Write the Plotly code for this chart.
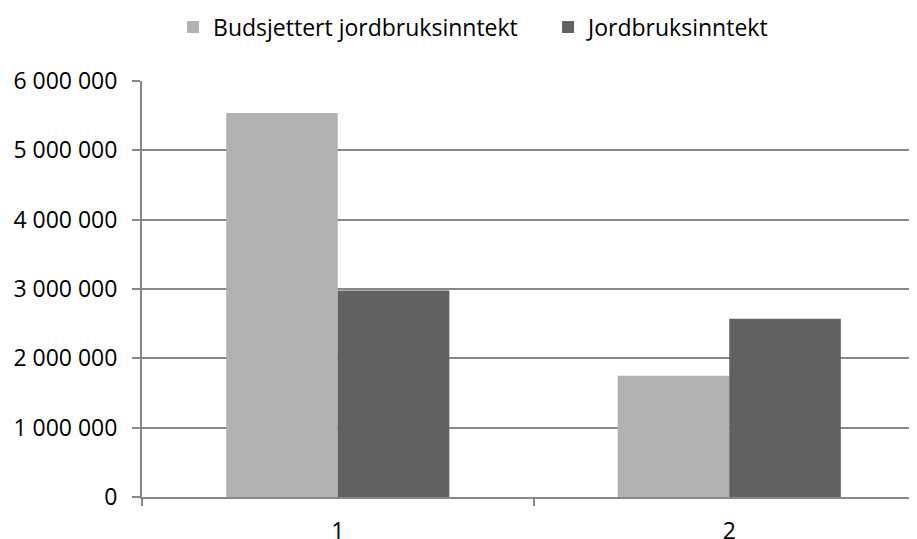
import plotly.graph_objects as go

# categories and series values
categories = ["1", "2"]
budsjettert = [5540000, 1750000]
jordbruk = [2980000, 2570000]
series_names = ["Budsjettert jordbruksinntekt", "Jordbruksinntekt"]

FONT = "Open Sans, Liberation Sans, sans-serif"
GRID = "#878787"

fig = go.Figure()
fig.add_trace(go.Bar(x=categories, y=budsjettert, name=series_names[0],
                     marker=dict(color="#b2b2b2", line=dict(width=0))))
fig.add_trace(go.Bar(x=categories, y=jordbruk, name=series_names[1],
                     marker=dict(color="#616161", line=dict(width=0))))

# the page puts the figure 8px in from the top-left corner, margins make up for it
fig.update_layout(
    width=917, height=539,
    margin=dict(l=134, r=0, t=73, b=50, autoexpand=False),
    paper_bgcolor="white", plot_bgcolor="white",
    font=dict(family=FONT, size=22, color="#000000"),
    separators=". ",
    barmode="group", bargap=0.43, bargroupgap=0,
    legend=dict(
        orientation="h",
        xref="container", yref="container",
        x=0.18, xanchor="left",
        y=1 - 19 / 539, yanchor="middle",
        font=dict(family=FONT, size=23),
        itemwidth=30,
        entrywidth=330,
        traceorder="normal",
    ),
    showlegend=True,
)

fig.update_xaxes(
    type="category",
    range=[-0.5, 1.5],
    tickson="boundaries",
    ticks="outside", ticklen=7, tickcolor=GRID, tickwidth=2,
    showline=True, linecolor=GRID, linewidth=2,
    showgrid=False,
    ticklabelstandoff=12,
    tickfont=dict(family=FONT, size=23),
    automargin=False,
)

fig.update_yaxes(
    range=[0, 6000000], dtick=1000000,
    tickformat=",d",
    ticks="outside", ticklen=8, tickcolor=GRID, tickwidth=2,
    showline=True, linecolor=GRID, linewidth=2,
    showgrid=True, gridcolor=GRID, gridwidth=2,
    zeroline=False,
    ticklabelstandoff=10,
    tickfont=dict(family=FONT, size=23),
    automargin=False,
)

fig.write_html("out.html")
